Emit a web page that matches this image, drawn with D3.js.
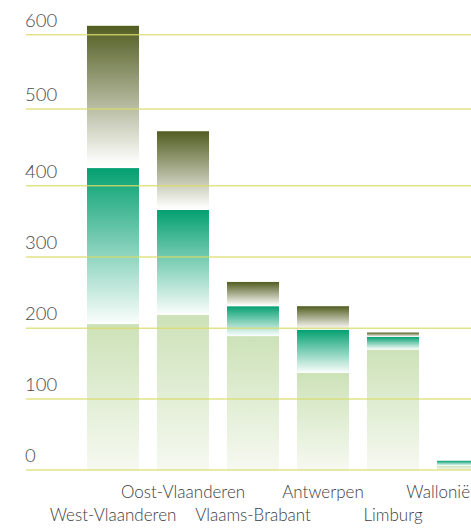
<!DOCTYPE html>
<html>
<head>
<meta charset="utf-8">
<script src="https://cdn.jsdelivr.net/npm/d3@7"></script>
<style>
  html, body { margin: 0; padding: 0; background: #ffffff; }
  svg { display: block; }
  text { font-family: "Lato", "Open Sans", sans-serif; font-weight: 300; }
</style>
</head>
<body>
<svg id="chart" width="471" height="532"></svg>
<script>
// ---- data ----
const categories = ["West-Vlaanderen", "Oost-Vlaanderen", "Vlaams-Brabant", "Antwerpen", "Limburg", "Wallonië"];
const baseValues = [206, 219, 189, 137, 170, 6];
const tealValues = [217, 147, 42, 61, 18, 7];
const oliveValues = [189, 105, 34, 33, 6, 0];
const tickValues = [0, 100, 200, 300, 400, 500, 600];

const W = 471, H = 532;
const svg = d3.select("#chart");

// scale (stops follow the reference's gridline spacing)
const y = d3.scaleLinear()
  .domain(tickValues)
  .range([470, 399, 328.3, 257, 185.7, 109, 34.7]);

const x = d3.scaleBand()
  .domain(categories)
  .range([87, 489])
  .paddingInner(18 / 70)
  .paddingOuter(0);

// gradients
const defs = svg.append("defs");
const grads = [
  { id: "gBase", stops: [[0, "#cde2b8"], [1, "#f6f9f1"]] },
  { id: "gTeal", stops: [[0, "#04a071"], [0.97, "#f4fbf8"], [1, "#ffffff"]] },
  { id: "gOlive", stops: [[0, "#525d21"], [0.95, "#fbfbf8"], [1, "#ffffff"]] }
];
grads.forEach(g => {
  const lg = defs.append("linearGradient").attr("id", g.id)
    .attr("x1", 0).attr("y1", 0).attr("x2", 0).attr("y2", 1);
  g.stops.forEach(s => lg.append("stop").attr("offset", s[0]).attr("stop-color", s[1]));
});

// stack
const rows = categories.map((c, i) => ({ cat: c, base: baseValues[i], teal: tealValues[i], olive: oliveValues[i] }));
const series = d3.stack().keys(["base", "teal", "olive"])(rows);
const fills = { base: "url(#gBase)", teal: "url(#gTeal)", olive: "url(#gOlive)" };

const barG = svg.append("g");
series.forEach(s => {
  barG.selectAll(null).data(s.filter(d => d[1] - d[0] > 0)).enter().append("rect")
    .attr("x", d => x(d.data.cat))
    .attr("width", x.bandwidth())
    .attr("y", d => y(d[1]))
    .attr("height", d => y(d[0]) - y(d[1]))
    .attr("fill", fills[s.key]);
});

// gridlines + tick labels
const grid = svg.append("g");
grid.selectAll("line").data(tickValues).enter().append("line")
  .attr("x1", 26).attr("x2", W)
  .attr("y1", d => y(d)).attr("y2", d => y(d))
  .attr("stroke", "#d9dc6c")
  .attr("stroke-opacity", 0.8)
  .attr("stroke-width", 1.6);
grid.selectAll("text").data(tickValues).enter().append("text")
  .attr("x", 25).attr("y", d => y(d) - 8)
  .attr("fill", "#4a4a4a")
  .attr("font-size", 18.5)
  .text(d => d);

// category labels (two alternating rows)
const lab = svg.append("g");
lab.selectAll("text").data(categories).enter().append("text")
  .attr("y", (d, i) => i % 2 === 0 ? 521 : 498)
  .attr("fill", "#404040")
  .attr("font-size", 17)
  .attr("text-anchor", "middle")
  .text(d => d)
  .each(function(d) {
    const w = this.getComputedTextLength();
    let cx = x(d) + x.bandwidth() / 2;
    if (cx + w / 2 > W - 1) cx = W - 1 - w / 2;
    d3.select(this).attr("x", cx);
  });
</script>
</body>
</html>
